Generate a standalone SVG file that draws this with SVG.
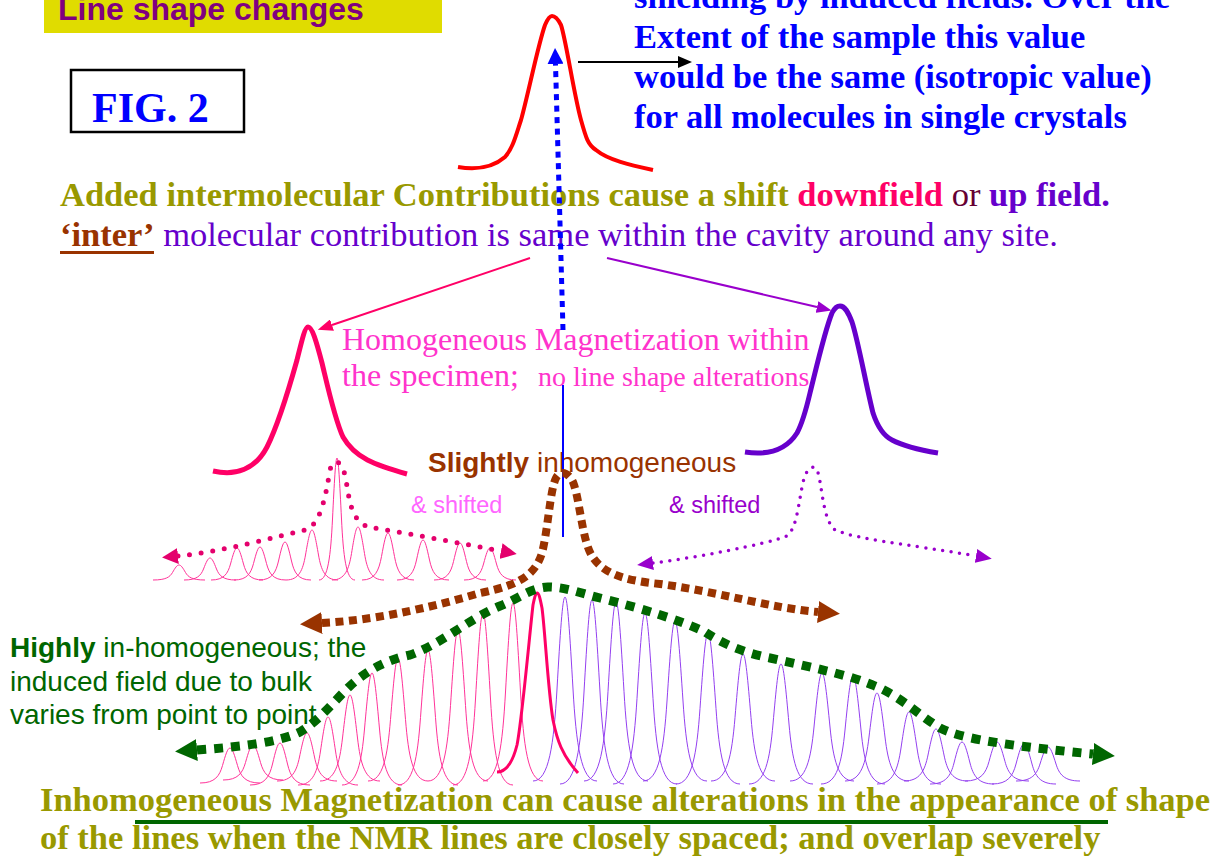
<svg xmlns="http://www.w3.org/2000/svg" xmlns:xlink="http://www.w3.org/1999/xlink" width="1217" height="857" viewBox="0 0 1217 857">
<style>
.serif{font-family:"Liberation Serif","Times New Roman",serif}
.sans{font-family:"Liberation Sans",Arial,sans-serif}
.b{font-weight:bold}
.thinpink{fill:none;stroke:#FF3399;stroke-width:1}
.thinpurple{fill:none;stroke:#9440F0;stroke-width:1}
</style>
<defs>
<path id="pk" d="M-1,0 C-0.5,0 -0.35,-0.2 -0.25,-0.5 C-0.15,-0.8 -0.08,-1 0,-1 C0.08,-1 0.15,-0.8 0.25,-0.5 C0.35,-0.2 0.5,0 1,0" vector-effect="non-scaling-stroke"/>
<marker id="mPink" markerUnits="userSpaceOnUse" viewBox="0 0 15 12" refX="0" refY="6" markerWidth="15" markerHeight="12" orient="auto"><path d="M0,0 L15,6 L0,12 z" fill="#FF0066"/></marker>
<marker id="mPurple" markerUnits="userSpaceOnUse" viewBox="0 0 15 12" refX="0" refY="6" markerWidth="15" markerHeight="12" orient="auto"><path d="M0,0 L15,6 L0,12 z" fill="#9900CC"/></marker>
<marker id="mBlack" markerUnits="userSpaceOnUse" viewBox="0 0 14 12" refX="0" refY="6" markerWidth="14" markerHeight="12" orient="auto"><path d="M0,0 L14,6 L0,12 z" fill="#000"/></marker>
<marker id="mBlue" markerUnits="userSpaceOnUse" viewBox="0 0 16 16" refX="0" refY="8" markerWidth="16" markerHeight="16" orient="auto"><path d="M0,0 L16,8 L0,16 z" fill="#0000FF"/></marker>
<marker id="mPinkDot" markerUnits="userSpaceOnUse" viewBox="0 0 16 16" refX="0" refY="8" markerWidth="16" markerHeight="16" orient="auto-start-reverse"><path d="M0,0 L16,8 L0,16 z" fill="#E4006C"/></marker>
<marker id="mPurpleDot" markerUnits="userSpaceOnUse" viewBox="0 0 16 14" refX="0" refY="7" markerWidth="16" markerHeight="14" orient="auto-start-reverse"><path d="M0,0 L16,7 L0,14 z" fill="#9900CC"/></marker>
<marker id="mBrown" markerUnits="userSpaceOnUse" viewBox="0 0 22 22" refX="0" refY="11" markerWidth="22" markerHeight="22" orient="auto-start-reverse"><path d="M0,0 L22,11 L0,22 z" fill="#993300"/></marker>
<marker id="mGreen" markerUnits="userSpaceOnUse" viewBox="0 0 22 22" refX="0" refY="11" markerWidth="22" markerHeight="22" orient="auto-start-reverse"><path d="M0,0 L22,11 L0,22 z" fill="#006600"/></marker>
</defs>
<rect width="1217" height="857" fill="#fff"/>

<g id="title">
<rect x="44" y="0" width="398" height="33" fill="#E0DC00"/>
<text x="58" y="20" class="sans b" font-size="32" fill="#800080">Line shape changes</text>
</g>

<g id="fig-label">
<rect x="71" y="70" width="173" height="62" fill="#fff" stroke="#000" stroke-width="2.5"/>
<text x="92" y="122" class="serif b" font-size="42" fill="#0000FF">FIG. 2</text>
</g>

<g id="shielding-text" class="serif b" font-size="34.5" fill="#0000FF">
<text x="634" y="8">shielding by induced fields. Over the</text>
<text x="634" y="48">Extent of the sample this value</text>
<text x="634" y="88">would be the same (isotropic value)</text>
<text x="634" y="128">for all molecules in single crystals</text>
</g>

<g id="red-peak">
<path d="M458,167 C470,169 490,170 505,157 C513,148 516,135 521,120 C528,95 538,45 545,25 C548,18 550,16 552,16 C555,16 558,19 561,25 C566,40 574,95 581,120 C586,138 588,145 596,150 C608,160 630,165 653,170" fill="none" stroke="#FF0000" stroke-width="4"/>
</g>

<g id="intermolecular-text" class="serif" font-size="34.5">
<text x="60" y="206" class="b" fill="#999900">Added intermolecular Contributions cause a shift <tspan fill="#FF0066">downfield</tspan><tspan font-weight="normal" fill="#660033"> or </tspan><tspan fill="#6600CC">up field.</tspan></text>
<text x="60" y="246"><tspan class="b" fill="#993300">‘inter’</tspan><tspan fill="#6600CC"> molecular contribution is same within the cavity around any site.</tspan></text>
<rect x="60" y="251" width="94" height="3" fill="#993300"/>
</g>

<g id="pink-peak">
<path d="M213,471 C235,476 255,470 267,447 C278,425 290,385 297,360 C302,340 305,327 308,327 C312,327 316,340 322,363 C328,388 335,420 343,437 C355,458 375,465 407,474" fill="none" stroke="#FF0066" stroke-width="5"/>
</g>

<g id="purple-peak">
<path d="M745,452 C765,455 785,452 797,433 C803,422 806,410 810,393 C817,365 825,330 832,313 C835,307 838,306 840,306 C845,306 848,312 852,322 C858,340 866,385 873,413 C878,428 884,436 892,440 C905,447 920,450 938,453" fill="none" stroke="#6600CC" stroke-width="5"/>
</g>

<g id="homogeneous-text" class="serif" fill="#FF33CC">
<text x="342" y="350" font-size="32">Homogeneous Magnetization within</text>
<text x="342" y="386" font-size="32">the specimen;</text>
<text x="538" y="386" font-size="28">no line shape alterations</text>
</g>

<g id="slightly-text" class="sans">
<text x="428" y="472" font-size="28" fill="#993300"><tspan class="b">Slightly</tspan> inhomogeneous</text>
<text x="411" y="513" font-size="23.5" fill="#FF66FF">&amp; shifted</text>
<text x="669" y="513" font-size="23.5" fill="#9900CC">&amp; shifted</text>
</g>

<g id="highly-text" class="sans" font-size="28" fill="#006600">
<text x="10" y="657"><tspan class="b">Highly</tspan> in-homogeneous; the</text>
<text x="10" y="691">induced field due to bulk</text>
<text x="10" y="724">varies from point to point</text>
</g>

<g id="pink-lines-top" class="thinpink">
<use xlink:href="#pk" transform="translate(179,580) scale(26,15)"/>
<use xlink:href="#pk" transform="translate(210,580) scale(26,22)"/>
<use xlink:href="#pk" transform="translate(237,580) scale(26,32)"/>
<use xlink:href="#pk" transform="translate(260,580) scale(26,33)"/>
<use xlink:href="#pk" transform="translate(285,580) scale(26,38)"/>
<use xlink:href="#pk" transform="translate(312,580) scale(26,50)"/>
<use xlink:href="#pk" transform="translate(337,580) scale(18,122)"/>
<use xlink:href="#pk" transform="translate(358,580) scale(26,53)"/>
<use xlink:href="#pk" transform="translate(388,580) scale(26,47)"/>
<use xlink:href="#pk" transform="translate(423,580) scale(26,40)"/>
<use xlink:href="#pk" transform="translate(460,580) scale(26,37)"/>
<use xlink:href="#pk" transform="translate(490,580) scale(26,32)"/>
</g>

<g id="pink-lines-bottom" class="thinpink">
<use xlink:href="#pk" transform="translate(230,783) scale(30,35)"/>
<use xlink:href="#pk" transform="translate(253,780) scale(30,35)"/>
<use xlink:href="#pk" transform="translate(280,785) scale(30,42)"/>
<use xlink:href="#pk" transform="translate(307,781) scale(30,48)"/>
<use xlink:href="#pk" transform="translate(328,785) scale(30,68)"/>
<use xlink:href="#pk" transform="translate(350,781) scale(30,86)"/>
<use xlink:href="#pk" transform="translate(372,785) scale(30,112)"/>
<use xlink:href="#pk" transform="translate(398,781) scale(30,123)"/>
<use xlink:href="#pk" transform="translate(428,785) scale(30,135)"/>
<use xlink:href="#pk" transform="translate(458,781) scale(30,151)"/>
<use xlink:href="#pk" transform="translate(483,785) scale(30,172)"/>
<use xlink:href="#pk" transform="translate(513,781) scale(30,178)"/>
</g>

<g id="purple-lines-bottom" class="thinpurple">
<use xlink:href="#pk" transform="translate(565,781) scale(32,184)"/>
<use xlink:href="#pk" transform="translate(592,784) scale(32,184)"/>
<use xlink:href="#pk" transform="translate(616,781) scale(32,179)"/>
<use xlink:href="#pk" transform="translate(645,784) scale(32,171)"/>
<use xlink:href="#pk" transform="translate(675,781) scale(32,160)"/>
<use xlink:href="#pk" transform="translate(708,784) scale(32,151)"/>
<use xlink:href="#pk" transform="translate(743,781) scale(32,127)"/>
<use xlink:href="#pk" transform="translate(781,784) scale(32,120)"/>
<use xlink:href="#pk" transform="translate(822,781) scale(32,108)"/>
<use xlink:href="#pk" transform="translate(853,784) scale(32,108)"/>
<use xlink:href="#pk" transform="translate(877,781) scale(32,88)"/>
<use xlink:href="#pk" transform="translate(909,784) scale(32,72)"/>
<use xlink:href="#pk" transform="translate(936,781) scale(32,52)"/>
<use xlink:href="#pk" transform="translate(962,784) scale(32,42)"/>
<use xlink:href="#pk" transform="translate(997,781) scale(32,39)"/>
<use xlink:href="#pk" transform="translate(1024,784) scale(32,40)"/>
<use xlink:href="#pk" transform="translate(1048,781) scale(32,34)"/>
</g>

<g id="bold-pink-line">
<path d="M497,772 C505,772 512,765 517,745 C522,720 530,630 533,605 C535,595 536,593 537,593 C539,593 540,598 542,608 C545,630 548,690 553,720 C557,740 562,755 578,773" fill="none" stroke="#FF0066" stroke-width="3"/>
</g>

<g id="connectors" fill="none">
<line x1="578" y1="62" x2="678" y2="62" stroke="#000" stroke-width="2" marker-end="url(#mBlack)"/>
<line x1="563" y1="330" x2="555.5" y2="64" stroke="#0000FF" stroke-width="5" stroke-dasharray="6 5.5" marker-end="url(#mBlue)"/>
<line x1="530" y1="258" x2="332" y2="325" stroke="#FF0066" stroke-width="2" marker-end="url(#mPink)"/>
<line x1="607" y1="258" x2="817" y2="307" stroke="#9900CC" stroke-width="2" marker-end="url(#mPurple)"/>
<line x1="563" y1="385" x2="563" y2="537" stroke="#0000FF" stroke-width="2"/>
<path d="M178,556 C220,552 280,536 305,530 C320,525 325,500 330,470 C333,458 342,458 346,480 C350,505 352,520 368,527 C400,532 460,543 501,551" stroke="#E4006C" stroke-width="5" stroke-linecap="round" stroke-dasharray="0 11.7" marker-start="url(#mPinkDot)" marker-end="url(#mPinkDot)"/>
<path d="M653,563 C700,557 760,545 785,537 C795,532 797,515 802,487 C805,470 812,463 817,470 C822,480 822,520 835,530 C860,540 900,543 976,556" stroke="#9900CC" stroke-width="3.5" stroke-linecap="round" stroke-dasharray="0 8.5" marker-start="url(#mPurpleDot)" marker-end="url(#mPurpleDot)"/>
<path d="M322,623 C380,620 440,605 480,593 C520,585 535,575 542,553 C548,530 550,490 556,478 C560,470 568,472 573,482 C580,500 582,540 592,556 C602,572 620,580 660,584 C720,592 770,608 818,612" stroke="#993300" stroke-width="8" stroke-dasharray="8 5.5" marker-start="url(#mBrown)" marker-end="url(#mBrown)"/>
<path d="M197,750 C240,747 280,742 300,732 C320,720 335,700 350,686 C365,672 385,660 410,655 C440,645 470,618 500,606 C520,598 530,588 548,587 C565,587 580,593 600,598 C640,608 680,620 705,632 C720,642 740,652 770,658 C810,667 850,675 875,686 C900,696 920,716 940,728 C960,738 1000,745 1093,754" stroke="#006600" stroke-width="9" stroke-dasharray="9 8" marker-start="url(#mGreen)" marker-end="url(#mGreen)"/>
</g>

<g id="bottom-text" class="serif b" font-size="34.5" fill="#999900">
<text x="40" y="811">Inhomogeneous Magnetization can cause alterations in the appearance of shape</text>
<rect x="135" y="820" width="973" height="4" fill="#006600"/>
<text x="40" y="849">of the lines when the NMR lines are closely spaced; and overlap severely</text>
</g>
</svg>
